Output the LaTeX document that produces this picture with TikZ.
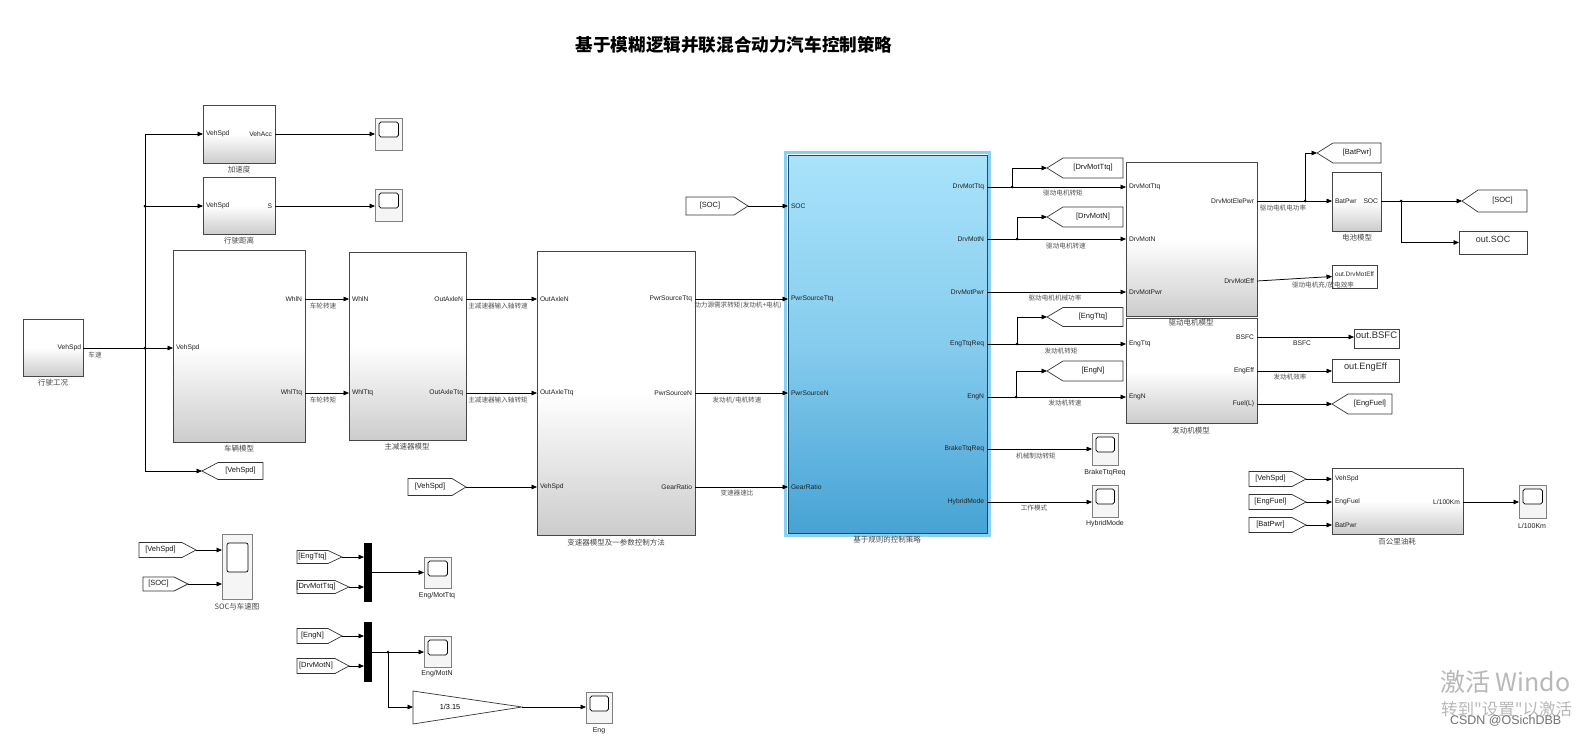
\documentclass[tikz,border=0pt]{standalone}
\usepackage{fontspec}
\setmainfont{Liberation Sans}
\newfontfamily\cjk{Noto Sans CJK SC}
\usetikzlibrary{arrows.meta,fit,calc}
\definecolor{ctltop}{HTML}{A9E3FB}
\definecolor{ctlmid}{HTML}{86CCEE}
\definecolor{ctlbot}{HTML}{46A3D5}
\definecolor{ctlglow}{HTML}{8AD0F2}
\definecolor{ctlline}{HTML}{1E4A66}
\tikzset{
 every node/.style={inner sep=0pt,outer sep=0pt},
 wire/.style={line width=0.75pt,draw=black},
 arr/.style={wire,-{Triangle[length=5.5pt,width=4.6pt]}},
 blk/.style={draw=black!72,line width=0.8pt,top color=white,bottom color=black!20,middle color=white,fit={#1}},
 ctlblk/.style={draw=ctlline,line width=0.8pt,top color=ctltop,bottom color=ctlbot,middle color=ctlmid,fit={#1}},
 scopebox/.style={draw=black!50,line width=0.8pt,fill=black!4,fit={#1},
   path picture={\draw[black,line width=0.7pt,rounded corners=1.8pt,fill=white]
     ([xshift=4pt,yshift=-4pt]path picture bounding box.north west) rectangle
     ([xshift=-3.5pt,yshift=-19pt]path picture bounding box.north east);}},
 tagline/.style={draw=black!80,line width=0.7pt,fill=white},
 tagtxt/.style={font=\fontsize{7.5}{8}\selectfont,text=black!90},
 portlbl/.style={font=\fontsize{6.7}{7}\selectfont,text=black!88},
 bcap/.style={font=\cjk\fontsize{7.5}{8}\selectfont,text=black!72},
 wlbl/.style={font=\cjk\fontsize{6.6}{7}\selectfont,text=black!68},
 slbl/.style={font=\fontsize{7}{8}\selectfont,text=black!88},
 outbox/.style={draw=black!75,line width=0.8pt,fill=white,text=black!82,fit={#1}},
 muxbar/.style={fill=black,fit={#1}},
}
% goto tag pointing left: name, tip x, y, right x, half height, text
\newcommand\tagL[6]{%
 \coordinate (#1-tip) at (#2,#3);
 \draw[tagline] (#2,#3) -- (#2+16,#3-#5) -- (#4,#3-#5) -- (#4,#3+#5) -- (#2+16,#3+#5) -- cycle;
 \node[tagtxt] (#1) at ({(#2+16+#4)/2},#3) {#6};}
% from tag pointing right: name, left x, y, tip x, half height, text
\newcommand\tagR[6]{%
 \coordinate (#1-tip) at (#4,#3);
 \draw[tagline] (#2,#3-#5) -- (#4-14,#3-#5) -- (#4,#3) -- (#4-14,#3+#5) -- (#2,#3+#5) -- cycle;
 \node[tagtxt] (#1) at ({(#2+#4-14)/2},#3) {#6};}
\begin{document}
\begin{tikzpicture}[x=1pt,y=-1pt]
\useasboundingbox (0,0) rectangle (1578,736);
\fill[white] (0,0) rectangle (1578,736);

\node[font=\cjk\bfseries\fontsize{17.6}{18}\selectfont] (title) at (734,45) {基于模糊逻辑并联混合动力汽车控制策略};

% ---------- left part ----------
\node[blk={(23,319)(83,376)}] (drv) {};
\node[portlbl,anchor=east] (drv-o) at (81,348) {VehSpd};
\node[bcap] at (53,383) {行驶工况};

\node[blk={(203,105)(275,163)}] (acc) {};
\node[portlbl,anchor=west] (acc-i) at (206,134) {VehSpd};
\node[portlbl,anchor=east] (acc-o) at (272,134) {VehAcc};
\node[bcap] at (239,170) {加速度};
\node[scopebox={(375,118)(402,150)}] (sc1) {};

\node[blk={(203,177)(275,234)}] (dist) {};
\node[portlbl,anchor=west] (dist-i) at (206,206) {VehSpd};
\node[portlbl,anchor=east] (dist-o) at (272,206) {S};
\node[bcap] at (239,241) {行驶距离};
\node[scopebox={(375,189)(402,221)}] (sc2) {};

\node[blk={(173,250)(305,442)}] (veh) {};
\node[portlbl,anchor=west] (veh-i) at (176,348) {VehSpd};
\node[portlbl,anchor=east] (veh-o1) at (302,299) {WhlN};
\node[portlbl,anchor=east] (veh-o2) at (302,393) {WhlTtq};
\node[bcap] at (239,449) {车辆模型};

\node[blk={(349,252)(466,440)}] (fd) {};
\node[portlbl,anchor=west] (fd-i1) at (352,299) {WhlN};
\node[portlbl,anchor=west] (fd-i2) at (352,393) {WhlTtq};
\node[portlbl,anchor=east] (fd-o1) at (463,299) {OutAxleN};
\node[portlbl,anchor=east] (fd-o2) at (463,393) {OutAxleTtq};
\node[bcap] at (407,447) {主减速器模型};

\tagL{gVeh}{202}{471}{263}{8.5}{[VehSpd]}
\tagR{fVeh1}{408}{487}{466}{8.5}{[VehSpd]}

\coordinate (jA) at (145,206);
\coordinate (jB) at (145,348);
\draw[arr] (drv.east |- drv-o) -- (veh.west |- veh-i);
\draw[arr] (jB) |- (acc.west |- acc-i);
\draw[arr] (jA) -- (dist.west |- dist-i);
\draw[arr] (jB) |- (gVeh-tip);
\fill (jA) circle (1.5pt);
\fill (jB) circle (1.5pt);
\node[wlbl] at (95,355) {车速};
\draw[arr] (acc.east |- acc-o) -- (sc1.west |- acc-o);
\draw[arr] (dist.east |- dist-o) -- (sc2.west |- dist-o);
\draw[arr] (veh.east |- veh-o1) -- (fd.west |- fd-i1);
\draw[arr] (veh.east |- veh-o2) -- (fd.west |- fd-i2);
\node[wlbl] at (323,306) {车轮转速};
\node[wlbl] at (323,400) {车轮转矩};

% ---------- transmission ----------
\node[blk={(537,251)(695,535)}] (tr) {};
\node[portlbl,anchor=west] (tr-i1) at (540,299) {OutAxleN};
\node[portlbl,anchor=west] (tr-i2) at (540,393) {OutAxleTtq};
\node[portlbl,anchor=west] (tr-i3) at (540,487) {VehSpd};
\node[portlbl,anchor=east] (tr-o1) at (692,299) {PwrSourceTtq};
\node[portlbl,anchor=east] (tr-o2) at (692,393) {PwrSourceN};
\node[portlbl,anchor=east] (tr-o3) at (692,487) {GearRatio};
\node[bcap] at (616,543) {变速器模型及一参数控制方法};
\draw[arr] (fd.east |- fd-o1) -- (tr.west |- tr-i1);
\draw[arr] (fd.east |- fd-o2) -- (tr.west |- tr-i2);
\draw[arr] (fVeh1-tip) -- (tr.west |- tr-i3);
\node[wlbl] at (498,306) {主减速器输入轴转速};
\node[wlbl] at (498,400) {主减速器输入轴转矩};

% ---------- controller ----------
\node[ctlblk={(788,155)(987,533)}] (ctl) {};
\draw[ctlglow,line width=3pt] ([xshift=-2.2pt,yshift=2.2pt]ctl.north west) rectangle ([xshift=2.2pt,yshift=-2.2pt]ctl.south east);
\node[portlbl,anchor=west] (ctl-i1) at (791,206) {SOC};
\node[portlbl,anchor=west] (ctl-i2) at (791,299) {PwrSourceTtq};
\node[portlbl,anchor=west] (ctl-i3) at (791,393) {PwrSourceN};
\node[portlbl,anchor=west] (ctl-i4) at (791,487) {GearRatio};
\node[portlbl,anchor=east] (ctl-o1) at (984,187) {DrvMotTtq};
\node[portlbl,anchor=east] (ctl-o2) at (984,239) {DrvMotN};
\node[portlbl,anchor=east] (ctl-o3) at (984,292) {DrvMotPwr};
\node[portlbl,anchor=east] (ctl-o4) at (984,344) {EngTtqReq};
\node[portlbl,anchor=east] (ctl-o5) at (984,397) {EngN};
\node[portlbl,anchor=east] (ctl-o6) at (984,449) {BrakeTtqReq};
\node[portlbl,anchor=east] (ctl-o7) at (984,502) {HybridMode};
\node[bcap] at (887,540) {基于规则的控制策略};

\tagR{fSOC}{686}{206}{748}{9}{[SOC]}
\draw[arr] (fSOC-tip) -- (ctl.west |- ctl-i1);
\draw[arr] (tr.east |- tr-o1) -- (ctl.west |- ctl-i2);
\draw[arr] (tr.east |- tr-o2) -- (ctl.west |- ctl-i3);
\draw[arr] (tr.east |- tr-o3) -- (ctl.west |- ctl-i4);
\node[wlbl] at (738,305) {动力源需求转矩(发动机+电机)};
\node[wlbl] at (737,400) {发动机/电机转速};
\node[wlbl] at (737,493) {变速器速比};

% ---------- drive motor & engine ----------
\node[blk={(1126,162)(1257,316)}] (dm) {};
\node[portlbl,anchor=west] (dm-i1) at (1129,187) {DrvMotTtq};
\node[portlbl,anchor=west] (dm-i2) at (1129,239) {DrvMotN};
\node[portlbl,anchor=west] (dm-i3) at (1129,292) {DrvMotPwr};
\node[portlbl,anchor=east] (dm-o1) at (1254,201) {DrvMotElePwr};
\node[portlbl,anchor=east] (dm-o2) at (1254,281) {DrvMotEff};

\node[blk={(1126,318)(1257,423)}] (eng) {};
\node[portlbl,anchor=west] (eng-i1) at (1129,344) {EngTtq};
\node[portlbl,anchor=west] (eng-i2) at (1129,397) {EngN};
\node[portlbl,anchor=east] (eng-o1) at (1254,337) {BSFC};
\node[portlbl,anchor=east] (eng-o2) at (1254,371) {EngEff};
\node[portlbl,anchor=east] (eng-o3) at (1254,404) {Fuel(L)};
\node[bcap] at (1191,323) {驱动电机模型};
\node[bcap] at (1191,431) {发动机模型};

\tagL{gDMT}{1047}{168}{1123}{10}{[DrvMotTtq]}
\tagL{gDMN}{1047}{217}{1123}{10}{[DrvMotN]}
\tagL{gET}{1047}{317}{1123}{9.5}{[EngTtq]}
\tagL{gEN}{1047}{371}{1123}{10}{[EngN]}

\coordinate (b1) at (1012,187);
\coordinate (b2) at (1017,239);
\coordinate (b3) at (1017,344);
\coordinate (b4) at (1016,397);
\draw[arr] (ctl.east |- ctl-o1) -- (dm.west |- dm-i1);
\draw[arr] (b1) |- (gDMT-tip);
\draw[arr] (ctl.east |- ctl-o2) -- (dm.west |- dm-i2);
\draw[arr] (b2) |- (gDMN-tip);
\draw[arr] (ctl.east |- ctl-o3) -- (dm.west |- dm-i3);
\draw[arr] (ctl.east |- ctl-o4) -- (eng.west |- eng-i1);
\draw[arr] (b3) |- (gET-tip);
\draw[arr] (ctl.east |- ctl-o5) -- (eng.west |- eng-i2);
\draw[arr] (b4) |- (gEN-tip);
\foreach \p in {b1,b2,b3,b4} \fill (\p) circle (1.5pt);
\node[wlbl] at (1063,193) {驱动电机转矩};
\node[wlbl] at (1066,246) {驱动电机转速};
\node[wlbl] at (1055,298) {驱动电机机械功率};
\node[wlbl] at (1061,351) {发动机转矩};
\node[wlbl] at (1065,403) {发动机转速};
\node[wlbl] at (1036,456) {机械制动转矩};
\node[wlbl] at (1034,508) {工作模式};

\node[scopebox={(1092,433)(1118,465)}] (sBr) {};
\node[slbl] at (1105,473) {BrakeTtqReq};
\node[scopebox={(1092,485)(1118,517)}] (sHM) {};
\node[slbl] at (1105,524) {HybridMode};
\draw[arr] (ctl.east |- ctl-o6) -- (sBr.west |- ctl-o6);
\draw[arr] (ctl.east |- ctl-o7) -- (sHM.west |- ctl-o7);

% ---------- battery & outputs ----------
\node[blk={(1332,172)(1381,231)}] (bat) {};
\node[portlbl,anchor=west] (bat-i) at (1335,201) {BatPwr};
\node[portlbl,anchor=east] (bat-o) at (1378,201) {SOC};
\node[bcap] at (1357,238) {电池模型};
\tagL{gBP}{1317}{153}{1381}{10}{[BatPwr]}
\tagL{gSOC}{1462}{201}{1527}{11}{[SOC]}
\node[outbox={(1459,231)(1527,254)},font=\fontsize{9}{10}\selectfont] (oSOC) {out.SOC};
\node[outbox={(1332,265)(1377,288)},font=\fontsize{6.4}{7}\selectfont] (oDME) {out.DrvMotEff};
\coordinate (b5) at (1305,201);
\coordinate (b6) at (1401,201);
\draw[arr] (dm.east |- dm-o1) -- (bat.west |- bat-i);
\draw[arr] (b5) |- (gBP-tip);
\draw[arr] (bat.east |- bat-o) -- (gSOC-tip);
\draw[arr] (b6) |- (oSOC.west);
\fill (b5) circle (1.5pt);
\fill (b6) circle (1.5pt);
\draw[arr] (dm.east |- dm-o2) -- (oDME.west);
\node[wlbl] at (1283,208) {驱动电机电功率};
\node[wlbl] at (1323,285) {驱动电机充/放电效率};

\node[outbox={(1354,329)(1399,348)},font=\fontsize{9.5}{10}\selectfont] (oBSFC) {out.BSFC};
\node[outbox={(1332,359)(1399,382)},font=\fontsize{9.2}{10}\selectfont] (oEE) {out.EngEff};
\tagL{gEF}{1332}{404}{1392}{10}{[EngFuel]}
\draw[arr] (eng.east |- eng-o1) -- (oBSFC.west |- eng-o1);
\draw[arr] (eng.east |- eng-o2) -- (oEE.west |- eng-o2);
\draw[arr] (eng.east |- eng-o3) -- (gEF-tip);
\node[portlbl] at (1302,343) {BSFC};
\node[wlbl] at (1290,377) {发动机效率};

% ---------- fuel consumption ----------
\node[blk={(1332,468)(1463,534)}] (fc) {};
\node[portlbl,anchor=west] (fc-i1) at (1335,479) {VehSpd};
\node[portlbl,anchor=west] (fc-i2) at (1335,502) {EngFuel};
\node[portlbl,anchor=west] (fc-i3) at (1335,525) {BatPwr};
\node[portlbl,anchor=east] (fc-o) at (1460,502) {L/100Km};
\node[bcap] at (1397,542) {百公里油耗};
\tagR{fV3}{1249}{479}{1306}{7.5}{[VehSpd]}
\tagR{fEF}{1249}{502}{1306}{7.5}{[EngFuel]}
\tagR{fBP}{1249}{525}{1306}{7.5}{[BatPwr]}
\draw[arr] (fV3-tip) -- (fc.west |- fc-i1);
\draw[arr] (fEF-tip) -- (fc.west |- fc-i2);
\draw[arr] (fBP-tip) -- (fc.west |- fc-i3);
\node[scopebox={(1519,485)(1546,518)}] (sL) {};
\node[slbl] at (1532,526) {L/100Km};
\draw[arr] (fc.east |- fc-o) -- (sL.west |- fc-o);

% ---------- bottom left ----------
\tagR{fV2}{139}{550}{196}{7.5}{[VehSpd]}
\tagR{fS2}{143}{584}{188}{7}{[SOC]}
\node[draw=black!50,line width=0.8pt,fill=black!4,fit={(222,534)(252,599)}] (sSOC) {};
\draw[black,line width=0.7pt,rounded corners=2pt,fill=white] (227,543) rectangle (248,572);
\node[bcap] at (237,607) {SOC与车速图};
\draw[arr] (fV2-tip) -- (sSOC.west |- fV2-tip);
\draw[arr] (fS2-tip) -- (sSOC.west |- fS2-tip);

\tagR{fET2}{297}{557}{342}{6.5}{[EngTtq]}
\tagR{fDMT2}{297}{587}{349}{6.5}{[DrvMotTtq]}
\tagR{fEN2}{297}{636}{342}{7.5}{[EngN]}
\tagR{fDMN2}{297}{666}{349}{7.5}{[DrvMotN]}
\node[muxbar={(364,543)(372,602)}] (mux1) {};
\node[muxbar={(364,622)(372,682)}] (mux2) {};
\draw[arr] (fET2-tip) -- (mux1.west |- fET2-tip);
\draw[arr] (fDMT2-tip) -- (mux1.west |- fDMT2-tip);
\draw[arr] (fEN2-tip) -- (mux2.west |- fEN2-tip);
\draw[arr] (fDMN2-tip) -- (mux2.west |- fDMN2-tip);

\node[scopebox={(424,557)(451,588)}] (sEMT) {};
\node[slbl] at (437,596) {Eng/MotTtq};
\node[scopebox={(424,636)(451,667)}] (sEMN) {};
\node[slbl] at (437,674) {Eng/MotN};
\draw[arr] (mux1.east) -- (sEMT.west |- mux1.east);
\draw[arr] (mux2.east) -- (sEMN.west |- mux2.east);

\coordinate (gain-in) at (413,707);
\coordinate (gain-out) at (522,707);
\draw[tagline] (413,691) -- (gain-out) -- (413,724) -- cycle;
\node[font=\fontsize{7.3}{8}\selectfont] (gain) at (450,707) {1/3.15};
\coordinate (b7) at (388,652);
\draw[arr] (b7) |- (gain-in);
\fill (b7) circle (1.5pt);
\node[scopebox={(586,692)(612,723)}] (sEng) {};
\node[slbl] at (599,731) {Eng};
\draw[arr] (gain-out) -- (sEng.west |- gain-out);

% ---------- watermark ----------
\node[anchor=west,text=black!28,font=\cjk\fontsize{25}{26}\selectfont] (wm1) at (1440,682) {激活 Windo};
\node[anchor=west,text=black!28,font=\cjk\fontsize{16.5}{17}\selectfont] (wm2) at (1441,709) {转到"设置"以激活};
\node[anchor=west,text=black!55,font=\fontsize{12.5}{13}\selectfont] (wm3) at (1450,721) {CSDN @OSichDBB};
\end{tikzpicture}
\end{document}
